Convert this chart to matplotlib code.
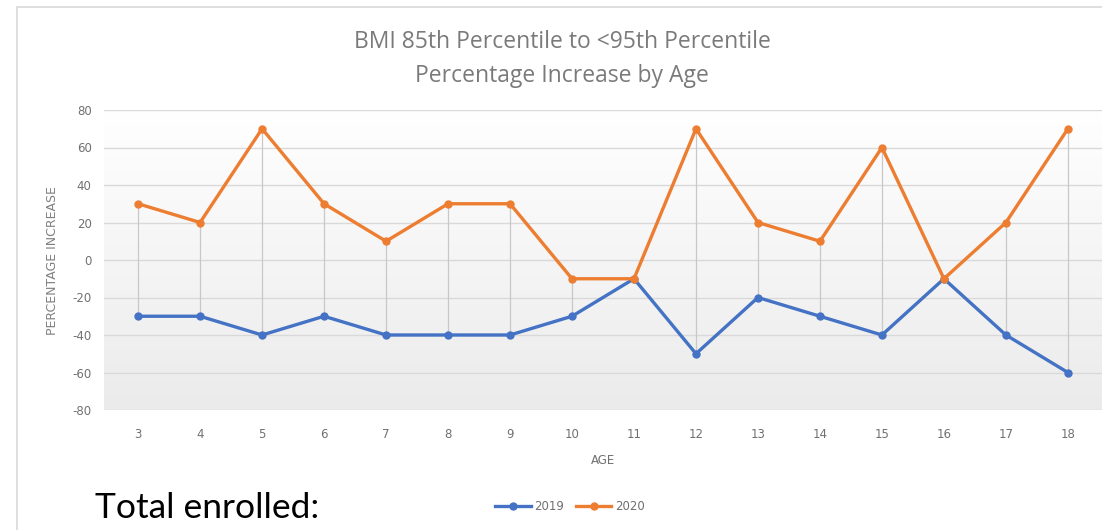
import matplotlib
matplotlib.use("Agg")
import matplotlib.pyplot as plt
import numpy as np
from matplotlib.patches import Rectangle
from matplotlib.colors import LinearSegmentedColormap

plt.rcParams["axes.unicode_minus"] = False

ages = [3, 4, 5, 6, 7, 8, 9, 10, 11, 12, 13, 14, 15, 16, 17, 18]
y2019 = [-30, -30, -40, -30, -40, -40, -40, -30, -10, -50, -20, -30, -40, -10, -40, -60]
y2020 = [30, 20, 70, 30, 10, 30, 30, -10, -10, 70, 20, 10, 60, -10, 20, 70]
yticks = [-80, -60, -40, -20, 0, 20, 40, 60, 80]
title = "BMI 85th Percentile to <95th Percentile\nPercentage Increase by Age"

W, H = 1102, 530
fig = plt.figure(figsize=(W / 100, H / 100), dpi=100)
fig.patch.set_facecolor("white")

# outer chart border
fig.patches.append(Rectangle((17 / W, -0.05), 1.1, 1 - 7 / H + 0.05, transform=fig.transFigure,
                             facecolor="none", edgecolor="#d9d9d9", lw=1.2))

ax = fig.add_axes([104 / W, 1 - 410 / H, (W - 104) / W, 300 / H])
x0, x1 = 2.45, 18.55

# gradient background (white at top, light grey at bottom)
grad = np.linspace(0, 1, 256).reshape(-1, 1)
cmap = LinearSegmentedColormap.from_list("g", ["#ffffff", "#ebebeb"])
ax.imshow(grad, extent=[x0, x1, -80, 80], origin="upper", aspect="auto", cmap=cmap, zorder=0)
ax.set_xlim(x0, x1)
ax.set_ylim(-80, 80)

for s in ax.spines.values():
    s.set_visible(False)

ax.set_yticks(yticks)
ax.grid(axis="y", color="#d9d9d9", lw=1.0, zorder=1)
ax.set_xticks(ages)
ax.tick_params(length=0, colors="#707070", labelsize=8.5)
ax.tick_params(axis="y", pad=9)
ax.tick_params(axis="x", pad=13)

# high-low lines
hi = np.maximum(y2019, y2020)
lo = np.minimum(y2019, y2020)
ax.vlines(ages, lo, hi, color="#c8c8c8", lw=0.9, zorder=2)

ax.plot(ages, y2019, color="#4472C4", lw=2.4, marker="o", ms=5, label="2019", zorder=3)
ax.plot(ages, y2020, color="#ED7D31", lw=2.4, marker="o", ms=5, label="2020", zorder=4)

ax.set_xlabel("AGE", color="#707070", fontsize=8.5, labelpad=9)
fig.text(52 / W, 1 - 261 / H, "PERCENTAGE INCREASE", rotation=90, ha="center", va="center",
         color="#808080", fontsize=9)

fig.text(562 / W, 1 - 59 / H, title, ha="center", va="center", color="#7a7a7a",
         fontsize=16.5, linespacing=1.5, family="Open Sans")

fig.legend(loc="center", bbox_to_anchor=(570 / W, 1 - 507 / H), ncol=2, frameon=False,
           fontsize=8.5, labelcolor="#707070", handlelength=3, columnspacing=1.0, handletextpad=0.3)

fig.text(95 / W, 1 - 508 / H, "Total enrolled:", ha="left", va="center", color="black",
         fontsize=25.5, family="Lato")

fig.savefig("out.png", dpi=100)
